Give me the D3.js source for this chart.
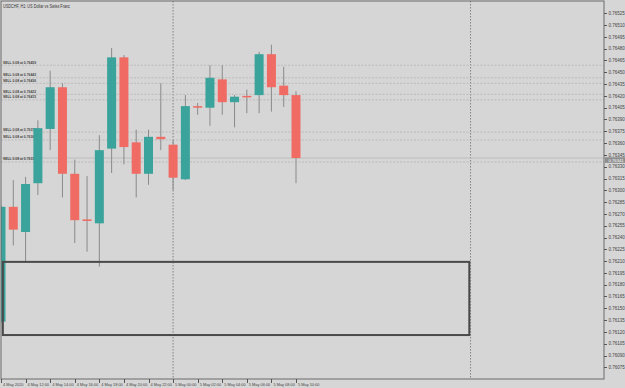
<!DOCTYPE html>
<html>
<head>
<meta charset="utf-8">
<title>USDCHF H1</title>
<script src="https://cdn.jsdelivr.net/npm/d3@7"></script>
<style>
  html, body { margin: 0; padding: 0; background: #d6d6d6; }
  svg { display: block; }
  text { font-family: "Liberation Sans", Arial, sans-serif; }
</style>
</head>
<body>
<script>
var W = 625, H = 388;

// bar times (H1), 4 May 10:00 .. 5 May 10:00
var times = ["4 May 10:00","4 May 11:00","4 May 12:00","4 May 13:00","4 May 14:00","4 May 15:00",
             "4 May 16:00","4 May 17:00","4 May 18:00","4 May 19:00","4 May 20:00","4 May 21:00",
             "4 May 22:00","4 May 23:00","5 May 00:00","5 May 01:00","5 May 02:00","5 May 03:00",
             "5 May 04:00","5 May 05:00","5 May 06:00","5 May 07:00","5 May 08:00","5 May 09:00","5 May 10:00"];
var open  = [0.76133,0.76279,0.76247,0.76309,0.76378,0.76431,0.76321,0.76263,0.76258,0.76353,0.76469,0.76361,
             0.76321,0.76368,0.76358,0.76314,0.76407,0.76405,0.76441,0.76412,0.76420,0.76421,0.76473,0.76433,0.76421];
var high  = [0.76281,0.76313,0.76317,0.76389,0.76452,0.76436,0.76339,0.76318,0.76370,0.76481,0.76472,0.76377,
             0.76377,0.76436,0.76364,0.76421,0.76411,0.76459,0.76459,0.76421,0.76428,0.76476,0.76485,0.76457,0.76426];
var low   = [0.76131,0.76230,0.76208,0.76294,0.76351,0.76291,0.76233,0.76222,0.76203,0.76322,0.76333,0.76291,
             0.76307,0.76351,0.76300,0.76313,0.76396,0.76382,0.76396,0.76380,0.76398,0.76398,0.76400,0.76406,0.76309];
var close = [0.76279,0.76250,0.76308,0.76379,0.76431,0.76321,0.76262,0.76261,0.76351,0.76469,0.76355,0.76321,
             0.76368,0.76365,0.76316,0.76407,0.76405,0.76443,0.76412,0.76419,0.76419,0.76473,0.76431,0.76421,0.76341];

// open SELL orders
var sellPrices = [0.76459,0.76443,0.76436,0.76422,0.76415,0.76374,0.76364,0.76336];
var sellLots = "0.08";
var bid = 0.76341;

// price axis ticks
var priceTicks = d3.range(0, 31).map(function(i) { return +(0.76525 - i * 0.00015).toFixed(5); });
// time axis labels (every 2 bars)
var timeTickIdx = [0,2,4,6,8,10,12,14,16,18,20,22,24];
var timeTickLabels = ["4 May 2020","4 May 12:00","4 May 14:00","4 May 16:00","4 May 18:00","4 May 20:00",
                      "4 May 22:00","5 May 00:00","5 May 02:00","5 May 04:00","5 May 06:00","5 May 08:00","5 May 10:00"];

// drawn rectangle object (bar index / price)
var boxX = [0.15, 38.1], boxY = [0.76209, 0.76116];
// vertical separators (bar index)
var separators = [14, 38.2];

var plotR = 604, plotB = 379;
var x = d3.scaleLinear().domain([0, 24]).range([1, 296]);
var y = d3.scaleLinear().domain([0.76075, 0.76525]).range([367.3, 13.3]);
var barW = 9;

var svg = d3.select("body").append("svg").attr("width", W).attr("height", H);

svg.append("rect").attr("width", W).attr("height", H).attr("fill", "#d6d6d6");

var plot = svg.append("g");
plot.append("clipPath").attr("id", "clip")
  .append("rect").attr("x", 1).attr("y", 1).attr("width", plotR - 1).attr("height", plotB - 1);

var inner = plot.append("g").attr("clip-path", "url(#clip)");

// separators
inner.selectAll("line.sep").data(separators).enter().append("line")
  .attr("class", "sep")
  .attr("x1", function(d) { return x(d); }).attr("x2", function(d) { return x(d); })
  .attr("y1", 1).attr("y2", plotB)
  .attr("stroke", "#6e6e6e").attr("stroke-width", 0.8).attr("stroke-dasharray", "1.5,1.5");

// order lines
inner.selectAll("line.order").data(sellPrices).enter().append("line")
  .attr("class", "order")
  .attr("x1", 1).attr("x2", plotR)
  .attr("y1", function(d) { return y(d); }).attr("y2", function(d) { return y(d); })
  .attr("stroke", "#b4b4b4").attr("stroke-width", 0.8).attr("stroke-dasharray", "2,1.5");

// bid line
inner.append("line")
  .attr("x1", 1).attr("x2", plotR).attr("y1", y(bid)).attr("y2", y(bid))
  .attr("stroke", "#bcbcbc").attr("stroke-width", 1);

// order labels
inner.selectAll("text.order").data(sellPrices).enter().append("text")
  .attr("class", "order")
  .attr("x", 3).attr("y", function(d) { return y(d) - 1.5; })
  .attr("font-size", 3.6).attr("fill", "#444").attr("font-weight", "bold")
  .attr("textLength", 33).attr("lengthAdjust", "spacingAndGlyphs")
  .text(function(d) { return "SELL " + sellLots + " at " + d.toFixed(5); });

// candles
var idx = d3.range(times.length);
var up = function(i) { return close[i] >= open[i]; };
inner.selectAll("line.wick").data(idx).enter().append("line")
  .attr("class", "wick")
  .attr("x1", function(i) { return x(i); }).attr("x2", function(i) { return x(i); })
  .attr("y1", function(i) { return y(high[i]); }).attr("y2", function(i) { return y(low[i]); })
  .attr("stroke", "#8a8a8a").attr("stroke-width", 1);

inner.selectAll("rect.body").data(idx).enter().append("rect")
  .attr("class", "body")
  .attr("x", function(i) { return x(i) - barW / 2; })
  .attr("width", barW)
  .attr("y", function(i) { return y(Math.max(open[i], close[i])); })
  .attr("height", function(i) { return Math.max(1.5, Math.abs(y(open[i]) - y(close[i]))); })
  .attr("fill", function(i) { return up(i) ? "#3aa39b" : "#ef6b63"; });

// rectangle object
inner.append("rect")
  .attr("x", x(boxX[0])).attr("y", y(boxY[0]))
  .attr("width", x(boxX[1]) - x(boxX[0])).attr("height", y(boxY[1]) - y(boxY[0]))
  .attr("fill", "none").attr("stroke", "#4a4a4a").attr("stroke-width", 2);

// frame
svg.append("rect").attr("x", 1).attr("y", 1).attr("width", plotR - 1).attr("height", plotB - 1)
  .attr("fill", "none").attr("stroke", "#6a6a6a").attr("stroke-width", 1);

// title
svg.append("text").attr("x", 3).attr("y", 7.5).attr("font-size", 4.6).attr("fill", "#333")
  .attr("textLength", 67).attr("lengthAdjust", "spacingAndGlyphs")
  .text("USDCHF, H1: US Dollar vs Swiss Franc");

// price axis
var yAxis = svg.append("g");
yAxis.selectAll("line").data(priceTicks).enter().append("line")
  .attr("x1", plotR).attr("x2", plotR + 3)
  .attr("y1", function(d) { return Math.round(y(d)) + 0.5; }).attr("y2", function(d) { return Math.round(y(d)) + 0.5; })
  .attr("stroke", "#555");
yAxis.selectAll("text").data(priceTicks).enter().append("text")
  .attr("x", plotR + 4.5).attr("y", function(d) { return y(d) + 1.7; })
  .attr("font-size", 4.5).attr("fill", "#444")
  .text(function(d) { return d.toFixed(5); });

// bid label box (sits just under the neighbouring tick label)
svg.append("rect").attr("x", plotR + 1).attr("y", y(bid) - 0.8).attr("width", 20).attr("height", 5.6)
  .attr("fill", "#8e8e8e");
svg.append("text").attr("x", plotR + 4.5).attr("y", y(bid) + 3.6).attr("font-size", 4.2).attr("fill", "#fff")
  .text(bid.toFixed(5));

// time axis
var xAxis = svg.append("g");
xAxis.selectAll("line").data(timeTickIdx).enter().append("line")
  .attr("x1", function(d) { return Math.round(x(d)) + 0.5; }).attr("x2", function(d) { return Math.round(x(d)) + 0.5; })
  .attr("y1", plotB).attr("y2", plotB + 4)
  .attr("stroke", "#555");
xAxis.selectAll("text").data(timeTickIdx).enter().append("text")
  .attr("x", function(d) { return x(d) + 2; }).attr("y", plotB + 6.5)
  .attr("font-size", 3.9).attr("fill", "#444")
  .text(function(d, i) { return timeTickLabels[i]; });
</script>
</body>
</html>
